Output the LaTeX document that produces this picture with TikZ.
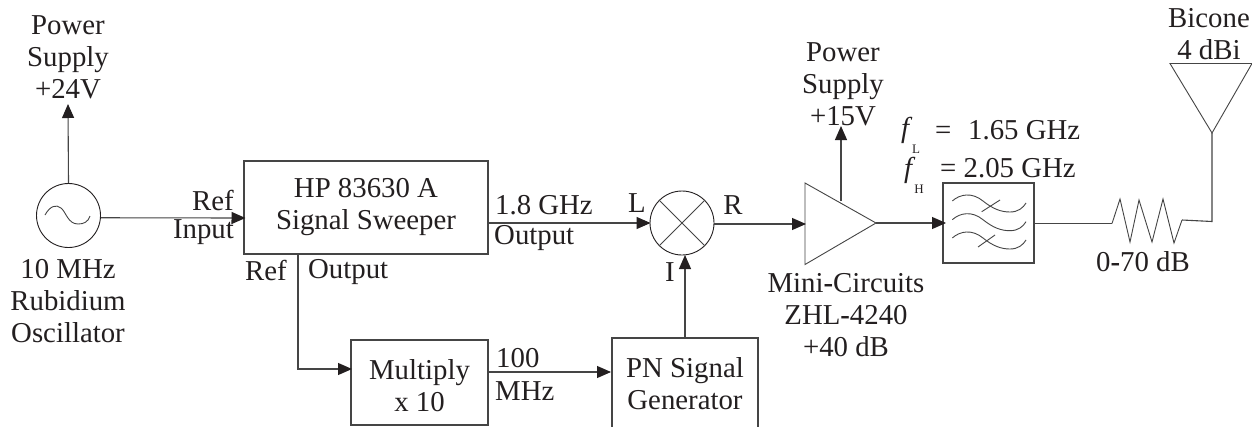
\documentclass[tikz,border=0pt]{standalone}
\usepackage{fontspec}
\setmainfont{Liberation Serif}
\usetikzlibrary{arrows.meta}
\definecolor{ink}{HTML}{231F20}
\definecolor{wire}{HTML}{454545}
\tikzset{
  wireline/.style={draw=wire,line width=1.1pt},
  arrowline/.style={wireline,-{Triangle[length=14pt,width=12pt,color=ink]},shorten >=-1pt},
  thin shape/.style={draw=wire,line width=0.9pt},
  blockbox/.style={draw=wire,line width=1.05pt,inner sep=0pt,align=center,text=ink,font=\fontsize{28.8}{32}\selectfont},
  circ/.style={circle,draw=ink,line width=0.9pt,minimum size=64pt,inner sep=0pt},
  lab/.style={inner sep=0pt,align=center,text=ink,font=\fontsize{28.8}{32}\selectfont},
  tiny/.style={inner sep=0pt,text=ink,font=\fontsize{13}{14}\selectfont},
}
\newcommand{\hvy}{{\bfseries -}}
\begin{document}
\begin{tikzpicture}[x=1pt,y=-1pt]
\path[use as bounding box,clip] (0,0) rectangle (1252,426);
\fill[white] (0,0) rectangle (1252,426);
% blocks
\node[circ] (osc) at (68.5,215.5) {};
\node[circ] (mix) at (682,223) {};
\node[blockbox,minimum width=244pt,minimum height=93pt] (sweep) at (366,207.5) {HP 83630 A\\Signal Sweeper};
\node[blockbox,minimum width=137pt,minimum height=85pt] (mult) at (419.5,382.5) {};
\node[lab] (multt) at (419.5,386) {Multiply\\x 10};
\node[blockbox,minimum width=146pt,minimum height=92pt] (pn) at (685,384) {PN Signal\\Generator};
\node[blockbox,minimum width=91pt,minimum height=80pt] (filt) at (988.5,223) {};
% oscillator and mixer symbols
\draw[thin shape] (45,215) .. controls (50,206) and (56,204) .. (61,208) .. controls (66,212) and (68,224) .. (78,224) .. controls (84,224) and (88,222) .. (90,216);
\draw[thin shape] (mix.45) -- (mix.225) (mix.135) -- (mix.-45);
% triangles
\coordinate (ampa) at (805,183);
\coordinate (ampb) at (805,264.5);
\coordinate (amptip) at (876,223);
\draw[thin shape,line join=miter] (ampa) -- (amptip) -- (ampb) -- cycle;
\coordinate (anta) at (1170,63.5);
\coordinate (antb) at (1252,63.5);
\coordinate (anttip) at (1212,133);
\draw[thin shape] (anta) -- (antb) -- (anttip) -- cycle;
% filter symbol
\foreach \dy in {0,18.7,37}{
  \draw[thin shape,yshift=\dy*-1pt] (952.3,201) .. controls (960,194) and (972,192) .. (983,201) .. controls (993,209) and (1001,212) .. (1010,212) .. controls (1018,212) and (1023,208) .. (1026,203);
}
\draw[thin shape] (981.7,211.7) -- (1000,200) (978,247) -- (995,235);
% connectors
\coordinate (ps24) at (68,105);
\coordinate (ps15) at (841,127);
\coordinate (ampps) at (841,200.5);
\coordinate (swin) at (244.5,218);
\coordinate (swout) at (488,223);
\coordinate (reftap) at (298,254);
\coordinate (refbend) at (298,369);
\coordinate (multin) at (351,369);
\coordinate (multout) at (488,372);
\coordinate (pnin) at (610,372);
\coordinate (pntop) at (685,338);
\coordinate (mixi) at (685,256);
\coordinate (mixr) at (714,224);
\coordinate (ampin) at (805,224);
\coordinate (filtin) at (945,223);
\coordinate (filtout) at (1034,223.5);
\coordinate (res0) at (1112,223.5);
\coordinate (resend) at (1182,220);
\coordinate (antbend) at (1212,221.5);
\draw[arrowline] (osc.90) -- (ps24);
\draw[arrowline] (osc.-4) -- (swin);
\draw[arrowline] (reftap) -- (refbend) -- (multin);
\draw[arrowline] (multout) -- (pnin);
\draw[arrowline] (swout) -- (mix.west);
\draw[arrowline] (pntop) -- (mixi);
\draw[arrowline] (mixr) -- (ampin);
\draw[arrowline] (amptip) -- (filtin);
\draw[arrowline] (ampps) -- (ps15);
\draw[wireline] (filtout) -- (res0);
\draw[thin shape] (res0) -- (1120,199) -- (1130,242) -- (1139,200) -- (1152,242) -- (1163,199) -- (1174,243) -- (resend);
\draw[wireline] (resend) -- (antbend) -- (anttip);
% labels
\node[lab] (l24) at (68,57) {Power\\Supply\\+24V};
\node[lab] (losc) at (68,301) {10 MHz\\Rubidium\\Oscillator};
\node[lab,anchor=east] (lrefa) at (234,200) {Ref};
\node[lab,anchor=east] (lrefb) at (234,232) {Input};
\node[lab,anchor=west] (lrefo) at (245,270) {Ref};
\node[lab,anchor=west] (lout) at (308,272) {Output};
\node[lab,anchor=west] (lghz) at (495,205) {1.8 GHz};
\node[lab,anchor=west] (lout2) at (494,238) {Output};
\node[lab] (ll) at (637,203) {L};
\node[lab] (lr) at (733,205) {R};
\node[lab] (li) at (670,272) {I};
\node[lab,anchor=west] (l100) at (496,358) {100};
\node[lab,anchor=west] (lmhz) at (495,391) {MHz};
\node[lab] (lmini) at (846,315) {Mini\hvy Circuits\\ZHL\hvy 4240\\+40 dB};
\node[lab] (l15) at (843,84) {Power\\Supply\\+15V};
\node[lab] (fl) at (905,130) {\itshape f};
\node[tiny] (flsub) at (916,149) {L};
\node[lab,anchor=west] (flv) at (935,130) {= \,\,1.65 GHz};
\node[lab] (fh) at (908,170) {\itshape f};
\node[tiny] (fhsub) at (919,189) {H};
\node[lab,anchor=west] (fhv) at (940,168) {= 2.05 GHz};
\node[lab] (latt) at (1143,262) {0\hvy 70 dB};
\node[lab] (lbi) at (1209,34) {Bicone\\4 dBi};
\end{tikzpicture}
\end{document}
